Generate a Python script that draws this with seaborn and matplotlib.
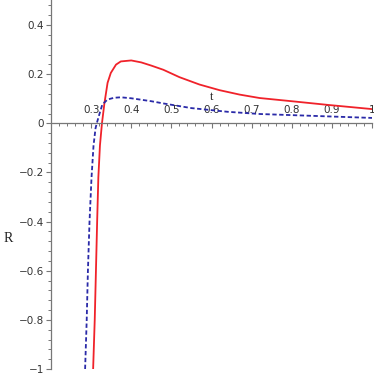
import matplotlib
matplotlib.use("Agg")
import matplotlib.pyplot as plt
import seaborn as sns
import pandas as pd
from matplotlib.ticker import MultipleLocator, FixedLocator

sns.set_style("white")
plt.rcParams['font.family'] = ['DejaVu Sans']

red_t = [0.305, 0.309, 0.312, 0.315, 0.318, 0.322, 0.327, 0.333, 0.341, 0.349,
         0.362, 0.374, 0.40, 0.425, 0.45, 0.48, 0.52, 0.57, 0.62, 0.67, 0.72,
         0.80, 0.89, 1.0]
red_R = [-1.0, -0.8, -0.6, -0.4, -0.22, -0.09, 0.0, 0.08, 0.165, 0.205,
         0.239, 0.252, 0.256, 0.248, 0.235, 0.218, 0.188, 0.158, 0.135, 0.117, 0.103,
         0.090, 0.075, 0.058]

blue_t = [0.285, 0.289, 0.292, 0.296, 0.301, 0.306, 0.311, 0.314, 0.322, 0.328,
          0.341, 0.357, 0.374, 0.40, 0.45, 0.48, 0.55, 0.64, 0.72, 0.86, 1.0]
blue_R = [-1.0, -0.8, -0.6, -0.4, -0.22, -0.09, -0.02, 0.0, 0.045, 0.077,
          0.097, 0.104, 0.106, 0.102, 0.090, 0.081, 0.062, 0.047, 0.038, 0.030, 0.022]

xticks = [0.3, 0.4, 0.5, 0.6, 0.7, 0.8, 0.9, 1.0]
xticklabels = ['0.3', '0.4', '0.5', '0.6', '0.7', '0.8', '0.9', '1']
yticks = [-1, -0.8, -0.6, -0.4, -0.2, 0, 0.2, 0.4]
yticklabels = ['\u22121', '\u22120.8', '\u22120.6', '\u22120.4', '\u22120.2', '0', '0.2', '0.4']

W = 374
fig = plt.figure(figsize=(3.74, 3.74), dpi=100)
ax = fig.add_axes([51 / W, 5 / W, 321 / W, 368.5 / W])

df_red = pd.DataFrame({'t': red_t, 'R': red_R})
df_blue = pd.DataFrame({'t': blue_t, 'R': blue_R})
sns.lineplot(data=df_red, x='t', y='R', sort=False, estimator=None, ax=ax,
             color='#f0222a', linewidth=1.3)
sns.lineplot(data=df_blue, x='t', y='R', sort=False, estimator=None, ax=ax,
             color='#2a2aa8', linewidth=1.3, linestyle=(0, (2.4, 1.4)))

ax.set_xlim(0.2, 1.0)
ax.set_ylim(-1.0, 0.5)
ax.set_xlabel('')
ax.set_ylabel('')

axis_col = '#777777'
for s in ['top', 'right']:
    ax.spines[s].set_visible(False)
ax.spines['bottom'].set_position(('data', 0))
ax.spines['left'].set_position(('data', 0.2))
for s in ['bottom', 'left']:
    ax.spines[s].set_color(axis_col)
    ax.spines[s].set_linewidth(0.9)

ax.xaxis.set_major_locator(FixedLocator(xticks))
ax.set_xticklabels(xticklabels)
ax.xaxis.set_minor_locator(MultipleLocator(0.02))
ax.yaxis.set_major_locator(FixedLocator(yticks))
ax.set_yticklabels(yticklabels)
ax.yaxis.set_minor_locator(MultipleLocator(0.04))

ax.tick_params(axis='x', which='major', direction='out', length=3.5, width=0.8,
               color=axis_col, labelsize=7.5, labelcolor='#333333', pad=-9.5)
ax.tick_params(axis='x', which='minor', direction='out', length=2, width=0.7, color=axis_col)
ax.tick_params(axis='y', which='major', direction='out', length=3.5, width=0.8,
               color=axis_col, labelsize=7.5, labelcolor='#333333', pad=1.5)
ax.tick_params(axis='y', which='minor', direction='out', length=2, width=0.7, color=axis_col)
ax.xaxis.set_ticks_position('bottom')
ax.yaxis.set_ticks_position('left')
for lab in ax.get_xticklabels():
    lab.set_verticalalignment('bottom')

ax.text(0.6, 0.108, 't', ha='center', va='center', fontsize=9,
        family='Liberation Serif', color='#222222')
ax.text(0.0925, -0.47, 'R', ha='center', va='center', fontsize=10,
        family='Liberation Serif', color='#222222', clip_on=False)

ax.grid(False)
fig.savefig('out.png', dpi=100)
